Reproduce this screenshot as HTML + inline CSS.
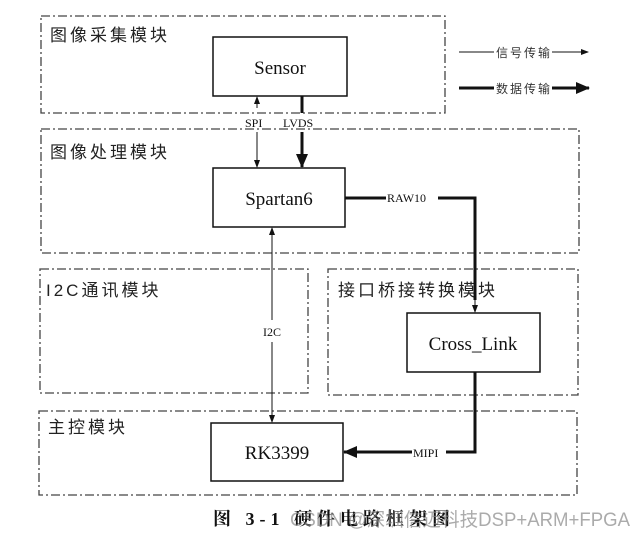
<!DOCTYPE html>
<html><head><meta charset="utf-8"><style>
body{margin:0;background:#fff;width:636px;height:537px;overflow:hidden}
</style></head><body>
<svg width="636" height="537" viewBox="0 0 636 537" xmlns="http://www.w3.org/2000/svg">
<defs>
<marker id="a" markerWidth="8" markerHeight="8" refX="7" refY="4" orient="auto" markerUnits="userSpaceOnUse"><path d="M0,1 L8,4 L0,7 Z" fill="#111"/></marker>
<marker id="b" markerWidth="14" markerHeight="14" refX="13" refY="7" orient="auto" markerUnits="userSpaceOnUse"><path d="M0,1 L14,7 L0,13 Z" fill="#111"/></marker>
</defs>
<g fill="none" stroke="#444" stroke-width="1.3" stroke-dasharray="9,3,2,3">
<rect x="41" y="16" width="404" height="97"/>
<rect x="41" y="129" width="538" height="124"/>
<rect x="40" y="269" width="268" height="124"/>
<rect x="328" y="269" width="250" height="126"/>
<rect x="39" y="411" width="538" height="84"/>
</g>
<g font-family="'Liberation Sans','Noto Sans CJK SC',sans-serif" font-size="17" fill="#222" letter-spacing="3">
<text x="50" y="41">图像采集模块</text>
<text x="50" y="158">图像处理模块</text>
<text x="46" y="296">I2C通讯模块</text>
<text x="338" y="296">接口桥接转换模块</text>
<text x="48" y="433">主控模块</text>
</g>
<g fill="#fff" stroke="#111" stroke-width="1.5">
<rect x="213" y="37" width="134" height="59"/>
<rect x="213" y="168" width="132" height="59"/>
<rect x="407" y="313" width="133" height="59"/>
<rect x="211" y="423" width="132" height="58"/>
</g>
<g font-family="'Liberation Serif',serif" font-size="19" fill="#111" text-anchor="middle">
<text x="280" y="74">Sensor</text>
<text x="279" y="205">Spartan6</text>
<text x="473" y="350">Cross_Link</text>
<text x="277" y="459">RK3399</text>
</g>
<g stroke="#111" fill="none">
<line x1="257" y1="108" x2="257" y2="97" stroke-width="1" marker-end="url(#a)"/>
<line x1="257" y1="132" x2="257" y2="167" stroke-width="1" marker-end="url(#a)"/>
<line x1="302" y1="96" x2="302" y2="113" stroke-width="3"/>
<line x1="302" y1="132" x2="302" y2="167" stroke-width="3" marker-end="url(#b)"/>
<polyline points="345,198 386,198" stroke-width="3"/>
<polyline points="438,198 475,198 475,300" stroke-width="3"/>
<line x1="475" y1="298" x2="475" y2="312" stroke-width="1" marker-end="url(#a)"/>
<line x1="272" y1="320" x2="272" y2="228" stroke-width="1" marker-end="url(#a)"/>
<line x1="272" y1="342" x2="272" y2="422" stroke-width="1" marker-end="url(#a)"/>
<polyline points="475,372 475,452 446,452" stroke-width="3"/>
<line x1="412" y1="452" x2="344" y2="452" stroke-width="3" marker-end="url(#b)"/>
<line x1="459" y1="52" x2="494" y2="52" stroke-width="1"/>
<line x1="552" y1="52" x2="588" y2="52" stroke-width="1" marker-end="url(#a)"/>
<line x1="459" y1="88" x2="494" y2="88" stroke-width="3"/>
<line x1="552" y1="88" x2="589" y2="88" stroke-width="3" marker-end="url(#b)"/>
</g>
<g font-family="'Liberation Serif',serif" font-size="12" fill="#111">
<text x="245" y="127">SPI</text>
<text x="283" y="127">LVDS</text>
<text x="387" y="202">RAW10</text>
<text x="263" y="336">I2C</text>
<text x="413" y="457">MIPI</text>
</g>
<g font-family="'Liberation Sans','Noto Sans CJK SC',sans-serif" font-size="12" fill="#333" letter-spacing="2">
<text x="496" y="57">信号传输</text>
<text x="496" y="93">数据传输</text>
</g>
<text x="213" y="525" font-family="'Liberation Serif','Noto Serif CJK SC',serif" font-size="18" font-weight="bold" fill="#111" letter-spacing="5">图 3-1 硬件电路框架图</text>
<text x="290" y="526" font-family="'Liberation Sans','Noto Sans CJK SC',sans-serif" font-size="19" fill="#888" opacity="0.7" textLength="340" lengthAdjust="spacingAndGlyphs">CSDN @深圳信迈科技DSP+ARM+FPGA</text>
</svg>
</body></html>
